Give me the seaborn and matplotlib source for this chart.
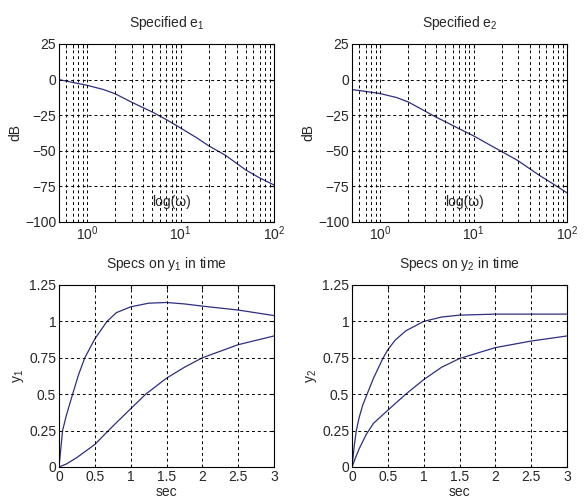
import matplotlib
matplotlib.use("Agg")
import matplotlib.pyplot as plt
import seaborn as sns
import numpy as np
import pandas as pd
from matplotlib.ticker import LogLocator, FixedLocator

# --- data ---
w = [0.5, 0.7, 1, 1.5, 2, 3, 4, 5, 7, 10, 15, 20, 30, 50, 70, 100]
e1_db = [0, -2, -4, -7, -10, -15.9, -19.8, -22.8, -28, -34, -41, -46.5, -53, -63.5, -69, -74]
e2_db = [-7, -8.3, -9.8, -12.6, -15.7, -22, -26.5, -29.6, -34.5, -39.5, -46, -50.5, -57, -67, -73, -79.5]

t1f = [0, 0.05, 0.1, 0.19, 0.27, 0.36, 0.5, 0.67, 0.8, 1.0, 1.25, 1.5, 1.75, 2.0, 2.5, 3.0]
y1_fast = [0, 0.25, 0.35, 0.5, 0.63, 0.75, 0.88, 1.0, 1.06, 1.10, 1.125, 1.13, 1.12, 1.105, 1.078, 1.04]
t1s = [0, 0.1, 0.25, 0.5, 0.69, 0.75, 1.0, 1.21, 1.5, 1.75, 2.0, 2.5, 3.0]
y1_slow = [0, 0.02, 0.065, 0.155, 0.25, 0.28, 0.40, 0.5, 0.61, 0.685, 0.75, 0.84, 0.90]

t2f = [0, 0.03, 0.06, 0.1, 0.15, 0.21, 0.3, 0.43, 0.5, 0.6, 0.75, 1.0, 1.25, 1.5, 2.0, 2.5, 3.0]
y2_fast = [0, 0.14, 0.25, 0.34, 0.425, 0.5, 0.61, 0.745, 0.805, 0.87, 0.935, 1.0, 1.03, 1.043, 1.05, 1.05, 1.05]
t2s = [0, 0.05, 0.1, 0.2, 0.3, 0.5, 0.75, 1.0, 1.25, 1.5, 2.0, 2.5, 3.0]
y2_slow = [0, 0.065, 0.125, 0.225, 0.30, 0.39, 0.5, 0.6, 0.685, 0.745, 0.82, 0.865, 0.90]

titles = ["Specified e$_1$", "Specified e$_2$",
          "Specs on y$_1$ in time", "Specs on y$_2$ in time"]

sns.set_style("white")
plt.rcParams['font.family'] = ['Liberation Sans', 'DejaVu Sans']
plt.rcParams['mathtext.fontset'] = 'custom'
plt.rcParams['mathtext.rm'] = 'Liberation Sans'
plt.rcParams['mathtext.it'] = 'Liberation Sans'

line_color = "#2e2e82"
fs = 10

fig = plt.figure(figsize=(5.85, 5.01), dpi=100)
W, H = 585, 501
def add_ax(x0, y0, x1, y1):
    return fig.add_axes([x0 / W, 1 - y1 / H, (x1 - x0) / W, (y1 - y0) / H])

ax1 = add_ax(59, 44, 274, 222)
ax2 = add_ax(352, 44, 567, 222)
ax3 = add_ax(59, 285, 274, 467)
ax4 = add_ax(352, 285, 567, 467)

def style(ax):
    for s in ax.spines.values():
        s.set_color("black")
        s.set_linewidth(0.8)
    ax.tick_params(direction="in", length=3, labelsize=fs, top=True, right=True,
                   which="both", color="black", pad=2)
    ax.grid(True, which="both", color="black", linestyle=(0, (3, 3)), linewidth=0.7)
    ax.set_axisbelow(False)

for ax, vals, title in [(ax1, e1_db, titles[0]), (ax2, e2_db, titles[1])]:
    df = pd.DataFrame({"w": w, "db": vals})
    sns.lineplot(data=df, x="w", y="db", ax=ax, color=line_color, linewidth=0.9)
    ax.set_xscale("log")
    ax.set_xlim(0.5, 100)
    ax.set_ylim(-100, 25)
    ax.yaxis.set_major_locator(FixedLocator([-100, -75, -50, -25, 0, 25]))
    ax.xaxis.set_major_locator(LogLocator(base=10, numticks=10))
    ax.xaxis.set_minor_locator(LogLocator(base=10, subs=np.arange(2, 10), numticks=20))
    ax.set_xlabel("")
    ax.set_ylabel("dB", fontsize=fs, labelpad=2)
    ax.set_title(title, fontsize=fs, pad=12)
    ax.text(0.525, 0.112, "log(ω)", transform=ax.transAxes, ha="center", va="center",
            fontsize=fs)
    style(ax)
    ax.tick_params(axis="x", which="minor", labelbottom=False)

for ax, tf, fast, ts, slow, title, yl in [
        (ax3, t1f, y1_fast, t1s, y1_slow, titles[2], "y$_1$"),
        (ax4, t2f, y2_fast, t2s, y2_slow, titles[3], "y$_2$")]:
    df = pd.DataFrame({"t": tf + ts, "y": fast + slow,
                       "c": ["fast"] * len(tf) + ["slow"] * len(ts)})
    sns.lineplot(data=df, x="t", y="y", units="c", estimator=None, ax=ax,
                 color=line_color, linewidth=0.9, sort=False)
    ax.set_xlim(0, 3)
    ax.set_ylim(0, 1.25)
    ax.xaxis.set_major_locator(FixedLocator([0, 0.5, 1, 1.5, 2, 2.5, 3]))
    ax.yaxis.set_major_locator(FixedLocator([0, 0.25, 0.5, 0.75, 1, 1.25]))
    ax.set_xticklabels(["0", "0.5", "1", "1.5", "2", "2.5", "3"])
    ax.set_yticklabels(["0", "0.25", "0.5", "0.75", "1", "1.25"])
    ax.set_xlabel("sec", fontsize=fs, labelpad=1)
    ax.set_ylabel(yl, fontsize=fs, labelpad=2)
    ax.set_title(title, fontsize=fs, pad=12)
    style(ax)
    ax.grid(False, which="minor")

fig.savefig("out.png", dpi=100)
